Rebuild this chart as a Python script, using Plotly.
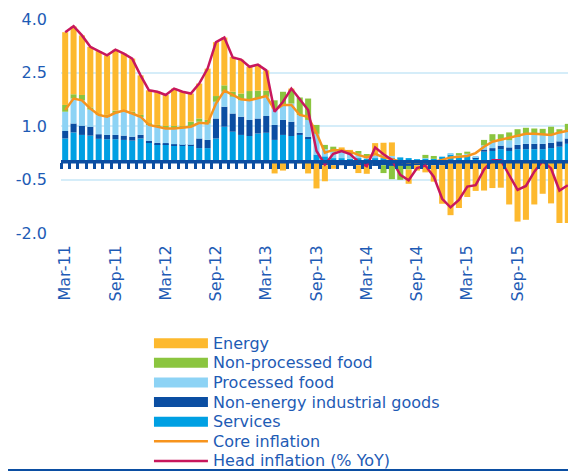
import plotly.graph_objects as go

# Monthly categories Mar-11 .. Mar-16 (61 months)
months = ["Mar-11","Apr-11","May-11","Jun-11","Jul-11","Aug-11","Sep-11","Oct-11","Nov-11","Dec-11",
          "Jan-12","Feb-12","Mar-12","Apr-12","May-12","Jun-12","Jul-12","Aug-12","Sep-12","Oct-12","Nov-12","Dec-12",
          "Jan-13","Feb-13","Mar-13","Apr-13","May-13","Jun-13","Jul-13","Aug-13","Sep-13","Oct-13","Nov-13","Dec-13",
          "Jan-14","Feb-14","Mar-14","Apr-14","May-14","Jun-14","Jul-14","Aug-14","Sep-14","Oct-14","Nov-14","Dec-14",
          "Jan-15","Feb-15","Mar-15","Apr-15","May-15","Jun-15","Jul-15","Aug-15","Sep-15","Oct-15","Nov-15","Dec-15",
          "Jan-16","Feb-16","Mar-16"]

tick_labels = ["Mar-11","Sep-11","Mar-12","Sep-12","Mar-13","Sep-13","Mar-14","Sep-14","Mar-15","Sep-15","Mar-16"]
y_ticks = [4.0, 2.5, 1.0, -0.5, -2.0]
y_tick_text = ["4.0", "2.5", "1.0", "-0.5", "-2.0"]

services = [0.65,0.82,0.75,0.73,0.64,0.63,0.63,0.61,0.59,0.65,
            0.53,0.49,0.49,0.44,0.44,0.44,0.38,0.38,0.65,0.98,0.84,0.75,
            0.72,0.79,0.81,0.61,0.75,0.72,0.75,0.65,0.20,0.15,0.10,0.10,
            0.08,0.10,0.08,0.10,0.10,0.10,0.12,0.10,0.07,0.08,0.08,0.14,
            0.20,0.15,0.18,0.10,0.28,0.30,0.35,0.30,0.35,0.35,0.35,0.35,
            0.38,0.42,0.50]
neig = [0.21,0.25,0.26,0.25,0.13,0.12,0.12,0.12,0.11,0.10,
        0.05,0.04,0.03,0.05,0.03,0.03,0.27,0.23,0.56,0.56,0.51,0.51,
        0.45,0.42,0.47,0.42,0.42,0.40,0.06,0.05,-0.05,-0.10,-0.10,-0.10,
        -0.12,-0.10,-0.10,-0.12,-0.10,-0.12,-0.12,-0.12,-0.10,-0.10,-0.10,-0.10,
        -0.05,-0.05,-0.03,0.02,0.06,0.08,0.10,0.10,0.12,0.15,0.15,0.15,
        0.15,0.15,0.15]
processed_food = [0.54,0.70,0.71,0.48,0.54,0.51,0.60,0.67,0.65,0.51,
                  0.45,0.45,0.41,0.44,0.46,0.51,0.47,0.46,0.47,0.42,0.47,0.46,
                  0.55,0.56,0.54,0.46,0.42,0.51,0.50,0.47,0.58,0.20,0.18,0.20,
                  0.15,0.12,0.08,0.08,0.08,0.06,0.00,0.00,0.00,0.02,0.00,0.00,
                  0.02,0.03,0.04,0.04,0.12,0.20,0.15,0.20,0.22,0.25,0.25,0.25,
                  0.22,0.25,0.22]
nonprocessed_food = [0.19,0.12,0.15,0.06,0.02,0.05,0.08,0.05,0.05,0.05,
                     0.04,0.05,0.07,0.07,0.07,0.14,0.09,0.10,0.16,0.18,0.14,0.19,
                     0.26,0.22,0.17,0.23,0.37,0.37,0.49,0.60,0.25,0.12,0.14,0.02,
                     0.02,0.08,0.05,0.00,-0.22,-0.37,-0.39,-0.10,0.00,0.09,0.08,0.00,
                     0.00,0.06,0.06,-0.02,0.15,0.19,0.17,0.22,0.22,0.20,0.18,0.17,
                     0.23,0.09,0.19]
energy = [2.04,1.90,1.67,1.70,1.77,1.67,1.71,1.58,1.49,1.11,
          0.93,0.95,0.87,1.05,0.96,0.79,0.98,1.44,1.51,1.34,0.98,0.95,
          0.68,0.73,0.57,-0.33,-0.25,0.05,-0.05,-0.33,-0.70,-0.45,-0.10,0.08,
          0.08,-0.22,-0.24,0.34,0.35,0.38,0.00,-0.40,-0.15,-0.20,-0.46,-1.08,
          -1.45,-1.25,-0.96,-0.80,-0.81,-0.74,-0.73,-1.20,-1.68,-1.63,-1.20,-0.90,
          -1.17,-1.72,-1.72]
core = [1.45,1.77,1.72,1.49,1.31,1.26,1.37,1.43,1.35,1.26,
        1.03,0.98,0.93,0.93,0.96,0.98,1.09,1.07,1.63,1.99,1.87,1.75,
        1.72,1.77,1.84,1.45,1.59,1.59,1.31,1.26,0.80,0.25,0.33,0.31,
        0.28,0.19,0.12,0.22,0.12,0.07,0.00,-0.02,-0.02,0.00,0.00,0.05,
        0.12,0.14,0.16,0.24,0.42,0.56,0.61,0.66,0.72,0.78,0.78,0.77,
        0.75,0.82,0.87]
headline = [3.63,3.80,3.54,3.22,3.10,2.98,3.14,3.03,2.89,2.42,
            2.00,1.96,1.87,2.05,1.96,1.91,2.19,2.61,3.35,3.48,2.92,2.86,
            2.66,2.72,2.56,1.40,1.68,2.05,1.75,1.45,0.30,-0.08,0.22,0.30,
            0.21,0.00,-0.13,0.40,0.21,0.05,-0.37,-0.52,-0.18,-0.11,-0.42,-1.04,
            -1.28,-1.07,-0.70,-0.66,-0.22,0.04,0.04,-0.38,-0.79,-0.68,-0.28,0.02,
            -0.19,-0.81,-0.66]

legend_names = ["Energy", "Non-processed food", "Processed food",
                "Non-energy industrial goods", "Services",
                "Core inflation", "Head inflation (% YoY)"]

C_ENERGY = "#FDB92E"
C_NPF = "#8BC53F"
C_PF = "#8DD3F5"
C_NEIG = "#0B4EA2"
C_SERV = "#00A0E3"
C_CORE = "#F7941D"
C_HEAD = "#C8175D"
C_TEXT = "#1E5BB5"
C_GRID = "#D5EDF9"
FONT = "DejaVu Sans, Verdana, sans-serif"

# page body has an 8px margin -> figure occupies window pixels 8..576 / 8..473
OFF = 8
W, H = 576 - OFF, 473 - OFF
ML, MR, MT, MB = 61 - OFF, W - (572.2 - OFF), 18.6 - OFF, H - (233.4 - OFF)
PW = W - ML - MR
PH = H - MT - MB

def px_x(px):  # window pixel -> paper
    return (px - OFF - ML) / PW

def px_y(py):
    return (H - MB - (py - OFF)) / PH

x = list(range(len(months)))

fig = go.Figure()
for name, vals, col in [("Services", services, C_SERV),
                        ("Non-energy industrial goods", neig, C_NEIG),
                        ("Processed food", processed_food, C_PF),
                        ("Non-processed food", nonprocessed_food, C_NPF),
                        ("Energy", energy, C_ENERGY)]:
    fig.add_trace(go.Bar(x=x, y=vals, name=name, marker_color=col,
                         marker_line_width=0, showlegend=False,
                         hovertext=months))

fig.add_trace(go.Scatter(x=x, y=core, mode="lines", name="Core inflation",
                         line=dict(color=C_CORE, width=2.5), showlegend=False))
fig.add_trace(go.Scatter(x=x, y=headline, mode="lines", name="Head inflation (% YoY)",
                         line=dict(color=C_HEAD, width=2.5), showlegend=False))

# invisible trace for the zero-line tick axis
fig.add_trace(go.Scatter(x=x, y=[0]*len(x), mode="markers", marker=dict(opacity=0),
                         xaxis="x2", showlegend=False, hoverinfo="skip"))

# hand-drawn legend (keys + real text)
legend_colors = [C_ENERGY, C_NPF, C_PF, C_NEIG, C_SERV, C_CORE, C_HEAD]
shapes = []
annotations = []
row0, row_step = 344.0, 19.7
for k, (nm, col) in enumerate(zip(legend_names, legend_colors)):
    cy = row0 + k * row_step
    if k < 5:
        shapes.append(dict(type="rect", xref="paper", yref="paper",
                           x0=px_x(154), x1=px_x(208), y0=px_y(cy + 5), y1=px_y(cy - 5),
                           fillcolor=col, line=dict(width=0)))
    else:
        shapes.append(dict(type="line", xref="paper", yref="paper",
                           x0=px_x(154), x1=px_x(208), y0=px_y(cy), y1=px_y(cy),
                           line=dict(color=col, width=2.5)))
    annotations.append(dict(text=nm, xref="paper", yref="paper",
                            x=px_x(211), y=px_y(cy), xanchor="left", yanchor="middle",
                            showarrow=False, font=dict(family=FONT, size=16, color=C_TEXT)))

# zero axis line (drawn above the bars, below the inflation lines' visual weight)
shapes.append(dict(type="line", xref="paper", yref="y", x0=0, x1=1, y0=0, y1=0,
                   layer="above", line=dict(color=C_NEIG, width=3.5)))
# page divider at the bottom
shapes.append(dict(type="line", xref="paper", yref="paper",
                   x0=px_x(8), x1=px_x(576), y0=px_y(471.2), y1=px_y(471.2),
                   line=dict(color=C_NEIG, width=2)))

fig.update_layout(
    width=W, height=H,
    margin=dict(l=ML, r=MR, t=MT, b=MB, autoexpand=False),
    paper_bgcolor="white", plot_bgcolor="white",
    barmode="relative", bargap=0.28,
    font=dict(family=FONT, color=C_TEXT, size=16),
    showlegend=False,
    xaxis=dict(range=[-0.5, len(x) - 0.5], tickmode="array",
               tickvals=[months.index(t) for t in tick_labels], ticktext=tick_labels,
               tickangle=-90, showgrid=False, zeroline=False, showline=False,
               ticks="", ticklabelstandoff=8, automargin=False,
               tickfont=dict(family=FONT, size=16, color=C_TEXT)),
    xaxis2=dict(overlaying="x", anchor="free", position=1/3, side="bottom",
                range=[-0.5, len(x) - 0.5], tickmode="array",
                tickvals=[i - 0.5 for i in range(len(x) + 1)],
                showticklabels=False, ticks="outside", ticklen=6, tickwidth=2.5,
                tickcolor=C_NEIG, showline=False,
                showgrid=False, zeroline=False, automargin=False),
    yaxis=dict(range=[-2, 4], tickmode="array", tickvals=y_ticks,
               ticktext=y_tick_text, automargin=False,
               showgrid=True, gridcolor=C_GRID, gridwidth=1.5, zeroline=False,
               showline=False, ticklabelstandoff=13,
               tickfont=dict(family=FONT, size=16, color=C_TEXT)),
    shapes=shapes,
    annotations=annotations,
)

fig.write_html("out.html")
